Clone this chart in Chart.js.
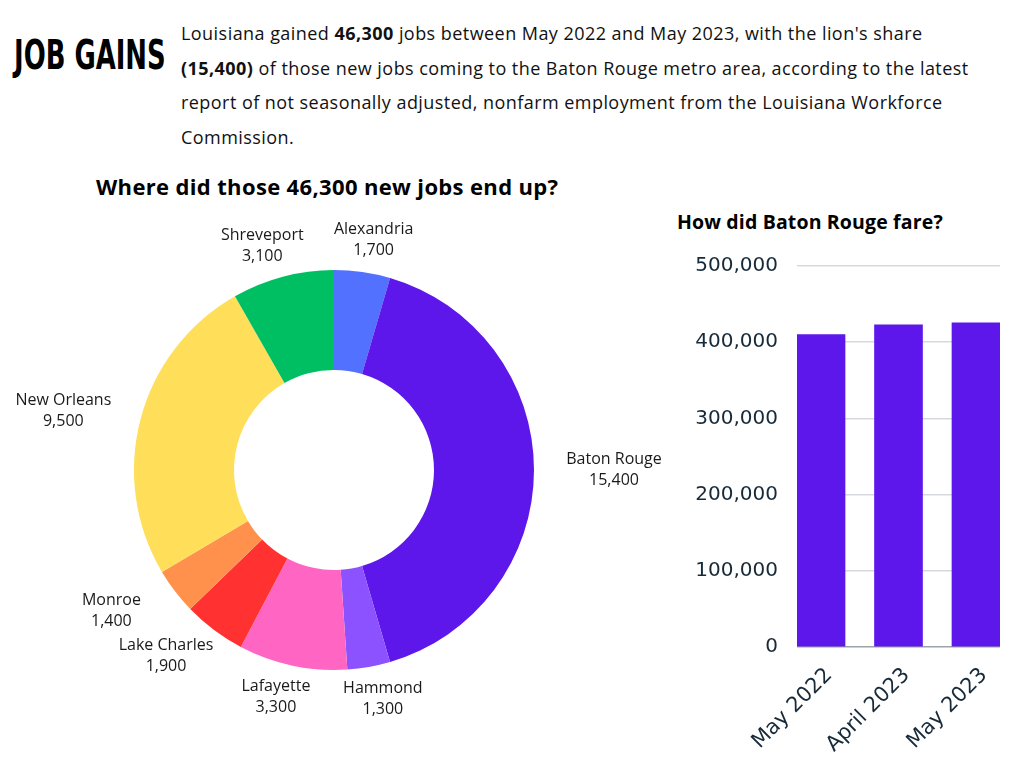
<!DOCTYPE html>
<html>
<head>
<meta charset="utf-8">
<script src="https://cdn.jsdelivr.net/npm/chart.js@4"></script>
<style>
  body { margin: 0; width: 1024px; height: 768px; position: relative; background: #fff; overflow: hidden; font-family: "Open Sans", sans-serif; color: #111; }
  .abs { position: absolute; }
  #brand { left: 14px; top: 34px; font: bold 30px/1 "DejaVu Sans Condensed", "DejaVu Sans", sans-serif; transform: scale(0.96, 1.38); transform-origin: left top; color: #000; }
  #intro { left: 181px; top: 16px; margin: 0; font-size: 18px; line-height: 34.5px; letter-spacing: 0.45px; color: #111; white-space: nowrap; }
  .h { font-weight: bold; color: #000; white-space: nowrap; line-height: 1; }
</style>
</head>
<body>
<div id="brand" class="abs">JOB GAINS</div>
<p id="intro" class="abs">Louisiana gained <b>46,300</b> jobs between May 2022 and May 2023, with the lion's share<br><b>(15,400)</b> of those new jobs coming to the Baton Rouge metro area, according to the latest<br>report of not seasonally adjusted, nonfarm employment from the Louisiana Workforce<br>Commission.</p>
<div class="abs h" style="left:96px;top:175px;font-size:22px;letter-spacing:0.35px;">Where did those 46,300 new jobs end up?</div>
<div class="abs h" style="left:677px;top:212px;font-size:19.5px;letter-spacing:0.15px;">How did Baton Rouge fare?</div>
<div class="abs" style="left:0;top:200px;width:668px;height:540px;"><canvas id="donutChart"></canvas></div>
<div class="abs" style="left:660px;top:235px;width:364px;height:533px;"><canvas id="barChart"></canvas></div>

<script>
(function () {
  "use strict";

  // Job gains by metro area, May 2022 -> May 2023
  const cities = ["Alexandria", "Baton Rouge", "Hammond", "Lafayette", "Lake Charles", "Monroe", "New Orleans", "Shreveport"];
  const gains = [1700, 15400, 1300, 3300, 1900, 1400, 9500, 3100];
  const cityColors = ["#5271ff", "#5e17eb", "#8c52ff", "#ff66c4", "#ff3131", "#ff914d", "#ffde59", "#00bf63"];

  // Baton Rouge nonfarm employment
  const months = ["May 2022", "April 2023", "May 2023"];
  const employment = [410100, 422800, 425500];
  const yTicks = [0, 100000, 200000, 300000, 400000, 500000];

  const fmt = (v) => Number(v).toLocaleString("en-US");
  const tickColor = "#172a3a";

  // labels around the ring, name over value
  const donutLabels = {
    id: "donutLabels",
    afterDatasetsDraw(chart) {
      const ctx = chart.ctx;
      const meta = chart.getDatasetMeta(0);
      ctx.save();
      ctx.font = '16px "Open Sans"';
      ctx.fillStyle = "#1a1a1a";
      ctx.textAlign = "center";
      ctx.textBaseline = "middle";
      meta.data.forEach(function (arc, i) {
        const p = arc.getProps(["x", "y", "startAngle", "endAngle", "outerRadius"], true);
        const mid = (p.startAngle + p.endAngle) / 2;
        const cx = p.x + Math.cos(mid) * p.outerRadius * 1.4;
        const cy = p.y + Math.sin(mid) * p.outerRadius * 1.16;
        ctx.fillText(cities[i], cx, cy - 10.5);
        ctx.fillText(fmt(gains[i]), cx, cy + 10.5);
      });
      ctx.restore();
    }
  };

  new Chart(document.getElementById("donutChart"), {
    type: "doughnut",
    data: {
      labels: cities,
      datasets: [{ data: gains, backgroundColor: cityColors, borderWidth: 0 }]
    },
    options: {
      responsive: true,
      maintainAspectRatio: false,
      animation: false,
      events: [],
      cutout: "50%",
      layout: { padding: { left: 134, right: 134, top: 70, bottom: 70 } },
      plugins: { legend: { display: false }, tooltip: { enabled: false } }
    },
    plugins: [donutLabels]
  });

  new Chart(document.getElementById("barChart"), {
    type: "bar",
    data: {
      datasets: [{
        label: "Employment",
        data: months.map((m, i) => ({ x: i, y: employment[i] })),
        backgroundColor: "#5e17eb",
        barThickness: 48
      }]
    },
    options: {
      responsive: true,
      maintainAspectRatio: false,
      animation: false,
      events: [],
      layout: { padding: { top: 20, right: 24 } },
      plugins: { legend: { display: false }, tooltip: { enabled: false } },
      scales: {
        x: {
          type: "linear",
          offset: false,
          min: -0.31,
          max: 2.31,
          grid: { display: false },
          border: { display: false },
          afterBuildTicks(scale) { scale.ticks = months.map((m, i) => ({ value: i })); },
          afterFit(scale) { scale.height = 121; },
          ticks: {
            autoSkip: false,
            minRotation: 45,
            maxRotation: 45,
            padding: 8,
            labelOffset: 8,
            color: tickColor,
            font: { family: "DejaVu Sans", size: 21 },
            callback: (v) => months[v]
          }
        },
        y: {
          min: 0,
          max: 500000,
          border: { display: false },
          grid: {
            drawTicks: false,
            lineWidth: 1.5,
            color: (c) => (c.tick && c.tick.value === 0 ? "#9ea3a8" : "#d5d9de")
          },
          afterBuildTicks(scale) { scale.ticks = yTicks.map((v) => ({ value: v })); },
          afterFit(scale) { scale.width = 137; },
          ticks: {
            padding: 19,
            color: tickColor,
            font: { family: "DejaVu Sans", size: 20 },
            callback: (v) => fmt(v)
          }
        }
      }
    }
  });
})();
</script>
</body>
</html>
